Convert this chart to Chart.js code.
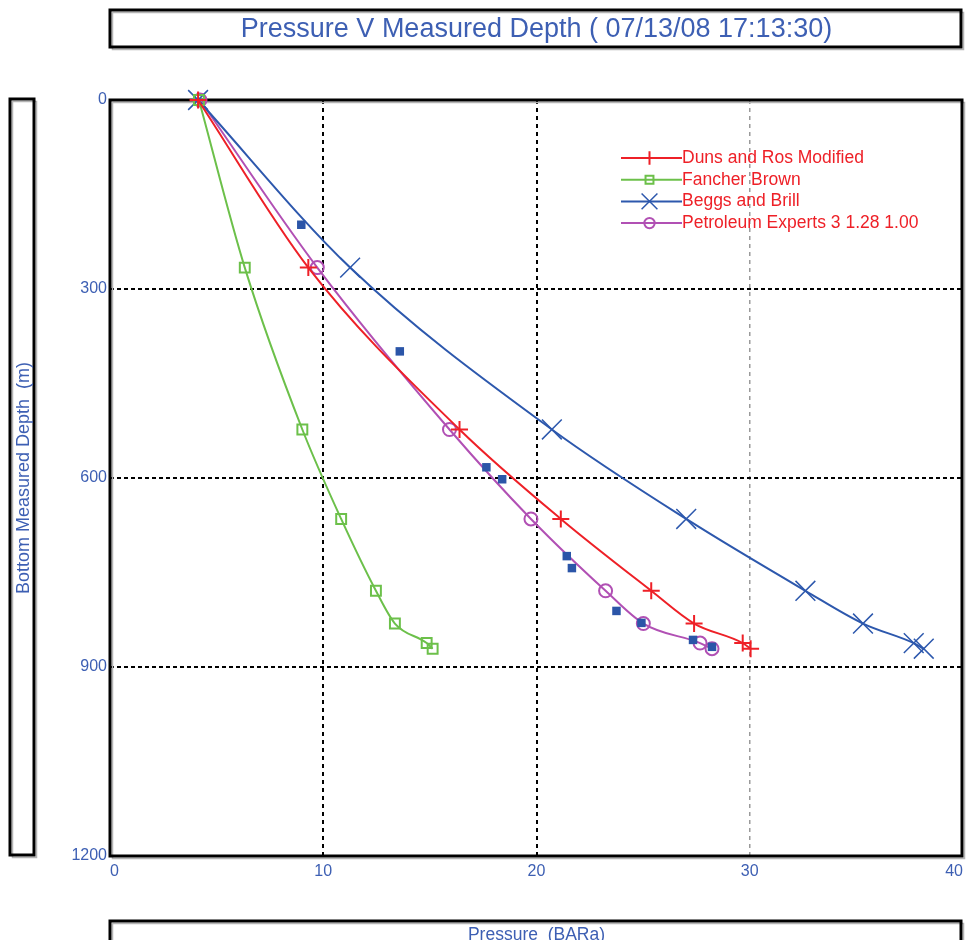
<!DOCTYPE html>
<html lang="en">
<head>
    <meta charset="UTF-8">
    <script src="https://cdn.jsdelivr.net/npm/chart.js"></script>
    <title>Pressure V Measured Depth</title>
    <style>
        body { margin: 0; background: #fff; }
        canvas { display: block; }
    </style>
</head>
<body>
    <canvas id="pvdChart" width="966" height="940"></canvas>
    <script>
        // depths (m) where each correlation was evaluated
        const depths = [0, 266, 523, 665, 779, 831, 862, 871];
        // pressure (BARa) per correlation
        const dunsRos = [4.13, 9.30, 16.39, 21.14, 25.38, 27.39, 29.67, 30.04];
        const fancherBrown = [4.17, 6.32, 9.02, 10.84, 12.47, 13.36, 14.85, 15.13];
        const beggsBrill = [4.13, 11.26, 20.72, 27.02, 32.61, 35.31, 37.69, 38.16];
        const petex = [4.22, 9.72, 15.92, 19.74, 23.24, 25.01, 27.67, 28.23];
        // measured points
        const measuredPressure = [8.97, 13.59, 17.65, 18.39, 21.42, 21.66, 23.75, 24.92, 27.34, 28.23];
        const measuredDepth = [198, 399, 583, 602, 724, 743, 811, 830, 857, 868];

        const xTicks = [0, 10, 20, 30, 40];
        const yTicks = [0, 300, 600, 900, 1200];

        const titleText = 'Pressure V Measured Depth ( 07/13/08 17:13:30)';
        const xTitle = 'Pressure  (BARa)';
        const yTitle = 'Bottom Measured Depth  (m)';

        const BLUE_TEXT = '#3d5fb3';

        // check if the narrow font is there, otherwise use regular Liberation Sans
        const probe = document.createElement('canvas').getContext('2d');
        function hasFont(name) {
            probe.font = '20px monospace';
            const a = probe.measureText('Pressure 0123').width;
            probe.font = '20px "' + name + '", monospace';
            return probe.measureText('Pressure 0123').width !== a;
        }
        const NARROW = hasFont('Liberation Sans Narrow');
        const tickFont = NARROW ? { family: '"Liberation Sans Narrow"', size: 18 } : { family: '"Liberation Sans", Arial', size: 16 };

        function pts(xs, ys) {
            return xs.map((x, i) => ({ x: x, y: ys[i] }));
        }

        const datasets = [
            {
                label: 'Duns and Ros Modified',
                data: pts(dunsRos, depths),
                borderColor: '#ee2027', backgroundColor: '#ee2027',
                pointStyle: 'cross', pointRadius: 8.5, pointBorderWidth: 2
            },
            {
                label: 'Fancher Brown',
                data: pts(fancherBrown, depths),
                borderColor: '#6cc04a', backgroundColor: 'rgba(0,0,0,0)',
                pointStyle: 'rect', pointRadius: 7, pointBorderWidth: 2
            },
            {
                label: 'Beggs and Brill',
                data: pts(beggsBrill, depths),
                borderColor: '#2d58ad', backgroundColor: '#2d58ad',
                pointStyle: 'crossRot', pointRadius: 14, pointBorderWidth: 1.5
            },
            {
                label: 'Petroleum Experts 3 1.28 1.00',
                data: pts(petex, depths),
                borderColor: '#b150b4', backgroundColor: 'rgba(0,0,0,0)',
                pointStyle: 'circle', pointRadius: 6.5, pointBorderWidth: 2
            },
            {
                label: 'Measured',
                data: pts(measuredPressure, measuredDepth),
                showLine: false, inLegend: false, order: -1,
                borderColor: '#2b55a8', backgroundColor: '#2b55a8',
                pointStyle: 'rect', pointRadius: 6, pointBorderWidth: 0
            }
        ];

        // black box with a faint grey shadow, like the old plotting tool
        function box(ctx, x, y, w, h) {
            ctx.strokeStyle = '#b4b4b4';
            ctx.lineWidth = 1.5;
            ctx.strokeRect(x + 2.5, y + 2.5, w, h);
            ctx.strokeStyle = '#000';
            ctx.lineWidth = 3;
            ctx.strokeRect(x, y, w, h);
        }

        // boxes, titles and plot frame
        const framePlugin = {
            id: 'frames',
            beforeDatasetsDraw(chart) {
                const ctx = chart.ctx;
                const a = chart.chartArea;
                ctx.save();
                box(ctx, a.left, 10, a.right - a.left - 2, 37);          // title
                box(ctx, 10, a.top - 1, 24, a.bottom - a.top);           // y title
                box(ctx, a.left, 921, a.right - a.left - 2, 40);         // x title
                box(ctx, a.left, a.top, a.right - a.left - 1, a.bottom - a.top); // plot

                ctx.fillStyle = BLUE_TEXT;
                ctx.textAlign = 'center';
                ctx.textBaseline = 'middle';
                ctx.font = '27px "Liberation Sans", Arial';
                ctx.fillText(titleText, (a.left + a.right) / 2, 30);

                ctx.font = '17.5px "Liberation Sans", Arial';
                ctx.fillText(xTitle, (a.left + a.right) / 2, 935);

                ctx.translate(24, (a.top + a.bottom) / 2);
                ctx.rotate(-Math.PI / 2);
                ctx.font = '18px "Liberation Sans", Arial';
                ctx.fillText(yTitle, 0, 0);
                ctx.restore();
            }
        };

        // legend sits inside the plot, top right
        const legendPlugin = {
            id: 'innerLegend',
            afterDatasetsDraw(chart) {
                const ctx = chart.ctx;
                const x0 = 621, x1 = 682;
                let y = 158;
                ctx.save();
                chart.data.datasets.forEach(ds => {
                    if (ds.inLegend === false) return;
                    ctx.strokeStyle = ds.borderColor;
                    ctx.lineWidth = 2;
                    ctx.beginPath();
                    ctx.moveTo(x0, y);
                    ctx.lineTo(x1, y);
                    ctx.stroke();
                    ctx.fillStyle = ds.backgroundColor;
                    ctx.lineWidth = ds.pointBorderWidth;
                    Chart.helpers.drawPoint(ctx, {
                        pointStyle: ds.pointStyle,
                        radius: ds.pointRadius * 0.8,
                        rotation: 0,
                        borderWidth: ds.pointBorderWidth
                    }, (x0 + x1) / 2 - 2, y);
                    ctx.fillStyle = '#ee2027';
                    ctx.font = '17.5px "Liberation Sans", Arial';
                    ctx.textAlign = 'left';
                    ctx.textBaseline = 'middle';
                    ctx.fillText(ds.label, x1, y);
                    y += 21.7;
                });
                ctx.restore();
            }
        };

        const ctx = document.getElementById('pvdChart').getContext('2d');
        new Chart(ctx, {
            type: 'line',
            data: { datasets: datasets },
            options: {
                responsive: false,
                animation: false,
                clip: false,
                layout: { autoPadding: false, padding: { top: 100, right: 3, left: 0, bottom: 0 } },
                plugins: { legend: { display: false }, tooltip: { enabled: false } },
                elements: {
                    line: { borderWidth: 2, cubicInterpolationMode: 'monotone' }
                },
                scales: {
                    x: {
                        type: 'linear',
                        min: xTicks[0], max: xTicks[xTicks.length - 1],
                        afterBuildTicks: s => { s.ticks = xTicks.map(v => ({ value: v })); },
                        ticks: { color: BLUE_TEXT, font: tickFont, padding: 6, align: 'inner', maxRotation: 0, callback: v => String(v) },
                        grid: {
                            drawTicks: false,
                            color: c => (c.tick.value === 10 || c.tick.value === 20) ? '#000' : (c.tick.value === 30 ? '#9a9a9a' : 'rgba(0,0,0,0)'),
                            lineWidth: c => c.tick.value === 30 ? 1.5 : 2
                        },
                        border: { display: false, dash: [4, 4] },
                        afterFit: s => { s.height = 84; s.paddingLeft = 0; s.paddingRight = 0; }
                    },
                    y: {
                        type: 'linear',
                        reverse: true,
                        min: yTicks[0], max: yTicks[yTicks.length - 1],
                        afterBuildTicks: s => { s.ticks = yTicks.map(v => ({ value: v })); },
                        ticks: { color: BLUE_TEXT, font: tickFont, padding: 3, callback: v => String(v) },
                        grid: {
                            drawTicks: false,
                            color: c => (c.tick.value > 0 && c.tick.value < 1200) ? '#000' : 'rgba(0,0,0,0)',
                            lineWidth: 2
                        },
                        border: { display: false, dash: [4, 3] },
                        afterFit: s => { s.width = 110; s.paddingTop = 0; s.paddingBottom = 0; }
                    }
                }
            },
            plugins: [framePlugin, legendPlugin]
        });
    </script>
</body>
</html>
